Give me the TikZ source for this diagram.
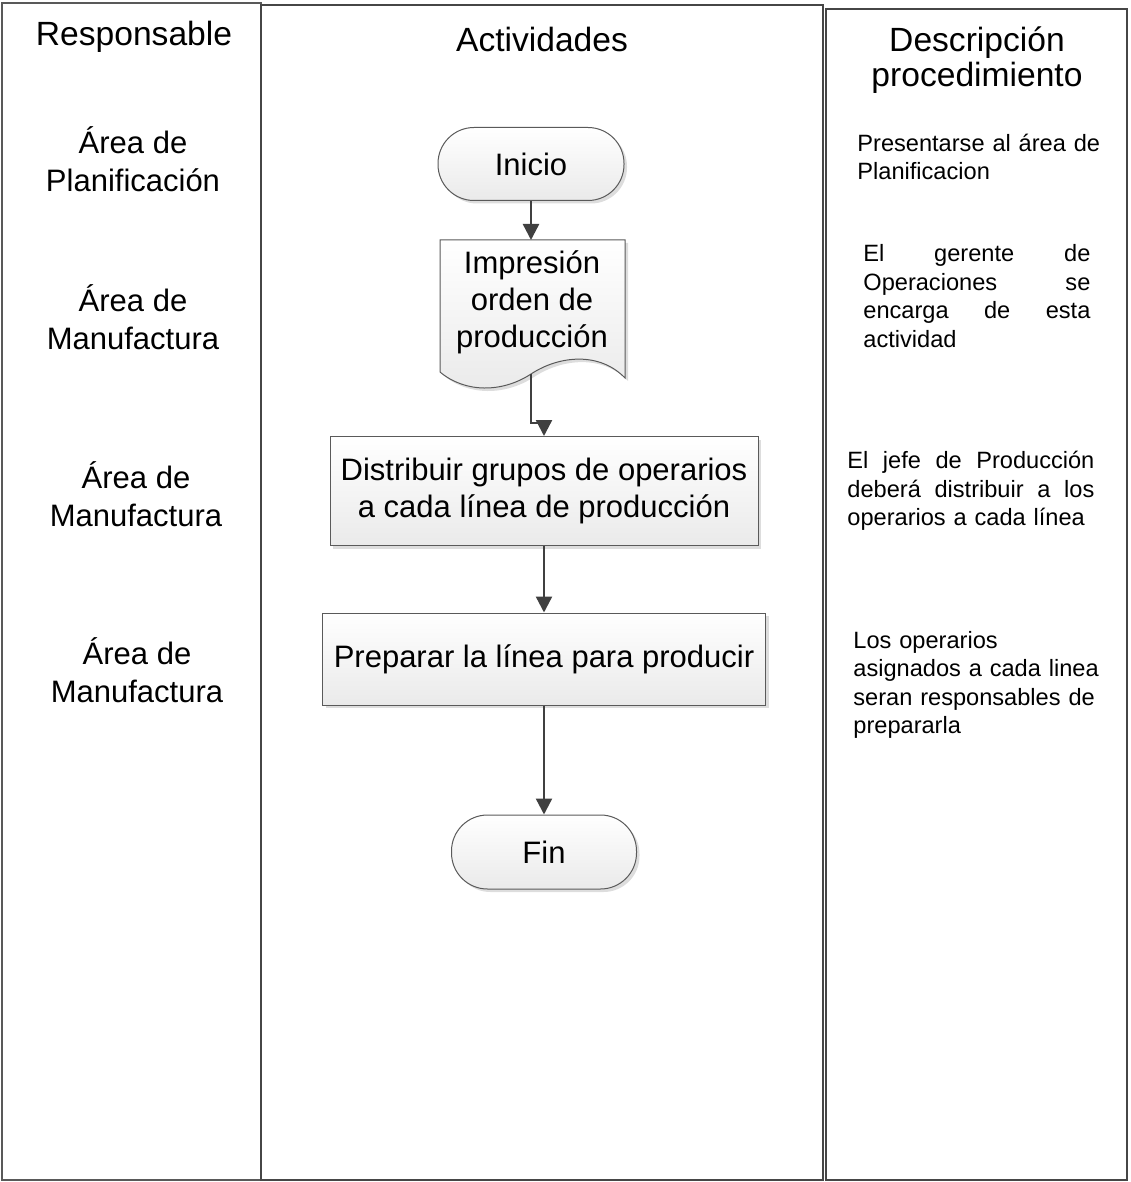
\documentclass[tikz,border=0pt]{standalone}
\usepackage{fontspec}
\setmainfont{Liberation Sans}
\usetikzlibrary{arrows.meta,positioning,shadows}
\definecolor{flline}{RGB}{64,64,64}
\definecolor{boxedge}{RGB}{90,90,90}
\definecolor{boxbot}{RGB}{234,234,234}
\definecolor{laneedge}{RGB}{70,70,70}

\begin{document}
\begin{tikzpicture}[
    x=0.5pt, y=-0.5pt,
    lane/.style={draw=laneedge, line width=0.6pt},
    head/.style={align=center, font=\fontsize{16.8}{17.5}\selectfont},
    resp/.style={align=center, font=\fontsize{15.5}{19}\selectfont},
    shade/.style={top color=white, bottom color=boxbot, draw=boxedge, line width=0.5pt,
        drop shadow={shadow xshift=1.5pt, shadow yshift=-1.5pt, fill=gray!45, opacity=0.6}},
    term/.style={shade, rounded corners=18pt, minimum width=93pt, minimum height=36.5pt, font=\fontsize{15.5}{18.5}\selectfont},
    proc/.style={shade, align=center, font=\fontsize{15.5}{18.5}\selectfont},
    doctext/.style={align=center, font=\fontsize{15.5}{18.5}\selectfont},
    desc/.style={anchor=west, align=left, inner sep=0pt, font=\fontsize{11.8}{14.2}\selectfont},
    arrow/.style={-{Triangle[length=8pt,width=8pt]}, draw=flline, line width=1.2pt}
]
\useasboundingbox (0,0) rectangle (1130,1182);
\draw[lane, draw=gray!70!black] (2,3) rectangle (261,1180);
\draw[lane] (261,5) rectangle (823,1180);
\draw[lane] (826,9) rectangle (1127,1180);

\node[head] (hresp) at (134,37) {Responsable};
\node[head] (hact) at (542,39) {Actividades};
\node[head] (hdesc) at (977,60) {Descripción\\procedimiento};

\node[resp] (r1) at (133,159) {Área de\\Planificación};
\node[resp] (r2) at (133,317) {Área de\\Manufactura};
\node[resp] (r3) at (136,494) {Área de\\Manufactura};
\node[resp] (r4) at (137,670) {Área de\\Manufactura};

\node[term] (inicio) at (531,164) {Inicio};
\path[shade] (440,240) -- (625,240) -- (625,378)
    .. controls (600,352) and (560,355) .. (531,374)
    .. controls (502,393) and (465,393) .. (440,372) -- cycle;
\node[doctext] (doc) at (532,302) {Impresión\\orden de\\producción};
\coordinate (doctop) at (531,240);
\coordinate (docout) at (531,374);
\coordinate (jog) at (531,423);
\node[proc, minimum width=214pt, minimum height=54.5pt] (dist) at (544,491) {Distribuir grupos de operarios\\a cada línea de producción};
\node[proc, minimum width=221.5pt, minimum height=46pt] (prep) at (544,659) {Preparar la línea para producir};
\node[term, minimum width=92.5pt, minimum height=37pt] (fin) at (544,852) {Fin};

\draw[arrow] (inicio) -- (doctop);
\draw[arrow] (docout) -- (jog) -| (dist.north);
\draw[arrow] (dist) -- (prep);
\draw[arrow] (prep) -- (fin);

\node[desc, text width=125pt] (d1) at (857,157) {Presentarse al área de\\Planificacion};
\node[desc, text width=113.5pt] (d2) at (863,296) {El\hfill gerente\hfill de\\Operaciones\hfill se\\encarga\hfill de\hfill esta\\actividad};
\node[desc, text width=123.5pt] (d3) at (847,491) {El\hfill jefe\hfill de\hfill Producción\\deberá\hfill distribuir\hfill a\hfill los\\operarios a cada línea};
\node[desc, text width=125pt] (d4) at (853,685) {Los operarios\\asignados a cada linea\\seran responsables de\\prepararla};
\end{tikzpicture}
\end{document}
